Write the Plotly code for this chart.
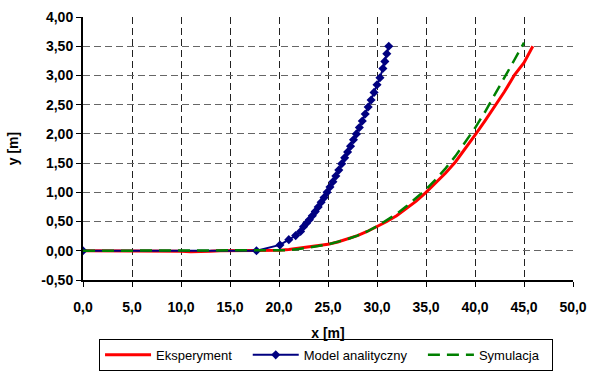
import plotly.graph_objects as go

# Eksperyment (measured trajectory)
exp_x = [0, 2, 4, 6, 8, 10, 11, 12, 13, 14, 16, 18, 19, 20, 21, 22, 23, 24, 25,
         26, 27, 28, 29, 30, 31, 32, 33, 34, 35, 36, 37, 38, 39, 40, 41, 42, 43,
         44, 45, 45.9]
exp_y = [0, 0, 0, 0, 0, -0.01, -0.015, -0.015, -0.01, 0, 0, 0, 0.005, 0.01, 0.02,
         0.04, 0.06, 0.08, 0.11, 0.15, 0.2, 0.26, 0.33, 0.41, 0.5, 0.6, 0.72,
         0.85, 1.0, 1.16, 1.33, 1.52, 1.74, 1.98, 2.22, 2.46, 2.72, 3.0, 3.22, 3.5]

# Model analityczny
mod_x = [0, 17.7, 20.1, 21.0, 21.7, 22.2, 22.5, 22.8, 23.1, 23.4, 23.7, 24.0,
         24.3, 24.6, 24.9, 25.2, 25.5, 25.8, 26.1, 26.4, 26.7, 27.0, 27.3, 27.6,
         27.9, 28.2, 28.5, 28.8, 29.1, 29.4, 29.7, 30.0, 30.3, 30.6, 30.8, 31.0,
         31.2]
mod_y = [0, 0, 0.10, 0.19, 0.26, 0.33, 0.41, 0.47, 0.53, 0.60, 0.67, 0.75, 0.83,
         0.91, 1.00, 1.09, 1.18, 1.28, 1.38, 1.49, 1.59, 1.69, 1.79, 1.90, 2.00,
         2.11, 2.22, 2.34, 2.46, 2.58, 2.71, 2.84, 2.96, 3.12, 3.24, 3.37, 3.50]

# Symulacja
sim_x = [0, 5, 10, 15, 20, 21, 22, 23, 24, 25, 26, 27, 28, 29, 30, 31, 32, 33,
         34, 35, 36, 37, 38, 39, 40, 41, 42, 43, 44, 45]
sim_y = [0, 0, 0, 0, 0, 0.01, 0.03, 0.05, 0.08, 0.11, 0.15, 0.2, 0.26, 0.33, 0.42,
         0.52, 0.63, 0.76, 0.9, 1.05, 1.22, 1.41, 1.62, 1.85, 2.1, 2.37, 2.66,
         2.95, 3.26, 3.56]

x_ticks = [0, 5, 10, 15, 20, 25, 30, 35, 40, 45, 50]
x_labels = ["0,0", "5,0", "10,0", "15,0", "20,0", "25,0", "30,0", "35,0",
            "40,0", "45,0", "50,0"]
y_ticks = [-0.5, 0, 0.5, 1, 1.5, 2, 2.5, 3, 3.5, 4]
y_labels = ["-0,50", "0,00", "0,50", "1,00", "1,50", "2,00", "2,50", "3,00",
            "3,50", "4,00"]

PAD = "\u00a0" * 3  # extra room after a legend entry

fig = go.Figure()
fig.add_trace(go.Scatter(x=exp_x, y=exp_y, mode="lines", name="Eksperyment" + PAD,
                         line=dict(color="#ff0000", width=3)))
fig.add_trace(go.Scatter(x=mod_x, y=mod_y, mode="lines+markers",
                         name="Model analityczny" + PAD,
                         line=dict(color="#000080", width=2),
                         marker=dict(symbol="diamond", size=7, color="#000080")))
fig.add_trace(go.Scatter(x=sim_x, y=sim_y, mode="lines",
                         name="Symulacja" + "\u00a0" * 2,
                         line=dict(color="#008000", width=2.5, dash="12px,7px")))

tick_font = dict(family="Liberation Sans, Arial", size=14, color="black",
                 weight="bold")
title_font = dict(family="Liberation Sans, Arial", size=14, color="black",
                  weight="bold")

fig.update_layout(
    width=589, height=374,
    margin=dict(l=83, r=16, t=17, b=94, autoexpand=False),
    paper_bgcolor="white", plot_bgcolor="white",
    font=dict(family="Liberation Sans, Arial", color="black"),
    showlegend=True,
    legend=dict(orientation="h", x=0.496, xanchor="center", y=-0.224,
                yanchor="top", bordercolor="black", borderwidth=1,
                bgcolor="white", font=dict(size=13), itemwidth=46),
    xaxis=dict(range=[0, 50], tickvals=x_ticks, ticktext=x_labels,
               tickfont=tick_font, ticks="outside", ticklen=5,
               tickcolor="black", showline=True, linecolor="black",
               linewidth=2, showgrid=True, gridcolor="#222222", gridwidth=1,
               griddash="7px,4px", zeroline=False, ticklabelstandoff=8,
               title=dict(text="x [m]", font=title_font, standoff=14)),
    yaxis=dict(range=[-0.5, 4], tickvals=y_ticks, ticktext=y_labels,
               tickfont=tick_font, ticks="outside", ticklen=5,
               tickcolor="black", showline=True, linecolor="black",
               linewidth=2, showgrid=True, gridcolor="#666666", gridwidth=1,
               griddash="7px,4px", zeroline=False,
               title=dict(text="y [m]", font=title_font, standoff=19)),
)

fig.write_html("out.html")
